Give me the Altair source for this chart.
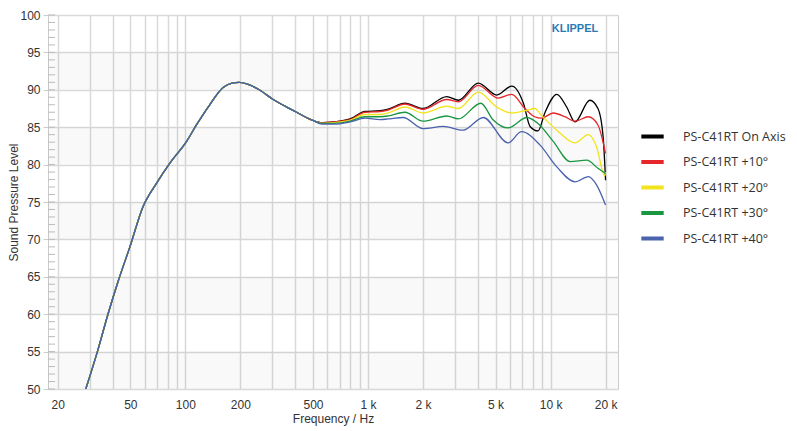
import altair as alt
import pandas as pd

# ---- data ----
SERIES = ["PS-C41RT On Axis", "PS-C41RT +10°", "PS-C41RT +20°", "PS-C41RT +30°", "PS-C41RT +40°"]
COLORS = ["#000000", "#e5262a", "#f2e41c", "#1a9641", "#4b62ae"]

# common low-frequency part (identical for all angles)
LOW_F = [28.5, 33, 37.8, 43, 49.7, 58.7, 69.5, 82.3, 101.6, 115, 136, 161, 180, 197, 217, 250, 303, 407, 460, 500]
LOW_DB = [50.0, 55.0, 60.1, 64.5, 69.0, 74.4, 77.5, 80.2, 83.1, 85.3, 88.0, 90.3, 90.9, 91.0, 90.8, 90.1, 88.7, 87.0, 86.3, 85.9]

BLACK_F = [560, 650, 797, 963, 1163, 1290, 1595, 2000, 2699, 3127, 4020, 5070, 6130, 7100, 7720, 8540, 9300, 10820, 12250, 13600, 16400, 18170, 19400, 20000]
BLACK_DB = [85.6, 85.7, 86.1, 87.1, 87.2, 87.4, 88.2, 87.5, 89.1, 88.6, 90.9, 89.3, 90.5, 88.2, 85.1, 84.5, 86.9, 89.4, 87.7, 85.7, 88.6, 87.5, 83.7, 77.9]

RED_F = [560, 650, 797, 963, 1163, 1290, 1595, 2000, 2699, 3127, 4020, 5170, 6130, 7240, 8180, 8900, 10340, 12000, 13600, 16100, 18170, 20000]
RED_DB = [85.6, 85.7, 86.0, 87.0, 87.1, 87.3, 88.1, 87.4, 88.7, 88.4, 90.6, 88.9, 89.4, 87.5, 86.4, 86.2, 86.9, 86.4, 85.8, 86.4, 85.3, 81.5]

YELLOW_F = [560, 650, 797, 963, 1163, 1290, 1595, 2000, 2699, 3127, 4020, 5070, 6130, 7240, 8180, 8900, 10820, 13600, 16100, 17850, 19800, 20000]
YELLOW_DB = [85.5, 85.6, 85.9, 86.7, 86.7, 86.9, 87.7, 86.9, 87.8, 87.5, 89.7, 87.7, 86.9, 87.2, 87.5, 86.6, 84.6, 82.9, 84.0, 82.4, 78.5, 79.0]

GREEN_F = [560, 650, 797, 963, 1163, 1290, 1595, 2000, 2699, 3127, 4150, 4840, 5850, 7420, 8540, 10340, 12800, 15800, 18170, 20000]
GREEN_DB = [85.5, 85.5, 85.8, 86.4, 86.4, 86.5, 87.0, 85.8, 86.5, 86.1, 88.2, 86.0, 84.9, 86.3, 85.5, 83.1, 80.4, 80.6, 79.5, 78.8]

BLUE_F = [560, 650, 797, 963, 1163, 1290, 1560, 2000, 2580, 3320, 4280, 5850, 6930, 8760, 10820, 13600, 16100, 17850, 20000]
BLUE_DB = [85.4, 85.4, 85.7, 86.2, 86.0, 86.1, 86.3, 84.8, 85.1, 84.6, 86.3, 82.9, 84.4, 82.6, 79.7, 77.7, 78.4, 77.3, 74.6]

HIGH = [(BLACK_F, BLACK_DB), (RED_F, RED_DB), (YELLOW_F, YELLOW_DB), (GREEN_F, GREEN_DB), (BLUE_F, BLUE_DB)]

GRID_F = [20, 30, 40, 50, 60, 70, 80, 90, 100, 200, 300, 400, 500, 600, 700, 800, 900,
          1000, 2000, 3000, 4000, 5000, 6000, 7000, 8000, 9000, 10000, 20000]
Y_TICKS = list(range(50, 101, 5))
Y_MINOR = list(range(50, 101, 1))
BAND_LO = [50, 60, 70, 80, 90]
BAND_HI = [55, 65, 75, 85, 95]

rows = []
for si, (name, (hf, hd)) in enumerate(zip(SERIES, HIGH)):
    for i, (f, d) in enumerate(zip(LOW_F + hf, LOW_DB + hd)):
        rows.append({"series": name, "f": f, "spl": d, "o": si})
df = pd.DataFrame(rows)

W, H = 570, 374
xscale = alt.Scale(type="log", domain=[17.7, 23400], nice=False)
yscale = alt.Scale(domain=[50, 100], nice=False, zero=False)

label_expr = ("indexof([20,50,100,200,500], datum.value) >= 0 ? '' + datum.value : "
              "(indexof([1000,2000,5000,10000,20000], datum.value) >= 0 ? (datum.value/1000) + ' k' : '')")

x_axis = alt.Axis(values=GRID_F, labelExpr=label_expr, title="Frequency / Hz",
                  ticks=False, tickSize=0, labelPadding=10, labelOverlap=False,
                  labelFlush=False, titlePadding=3, domain=False)
y_axis = alt.Axis(values=Y_TICKS, title="Sound Pressure Level", tickSize=5,
                  labelPadding=3, titlePadding=-1, domain=True, domainColor="#cccccc",
                  tickColor="#cccccc", labelOverlap=False, labelFlush=False)

bands = alt.Chart(pd.DataFrame({"lo": BAND_LO, "hi": BAND_HI})).mark_rect(
    color="#000000", opacity=0.025
).encode(
    y=alt.Y("lo:Q", scale=yscale, axis=y_axis),
    y2="hi:Q",
)

minor = alt.Chart(pd.DataFrame({"v": Y_MINOR})).mark_rule(color="#bbbbbb", strokeWidth=1).encode(
    y=alt.Y("v:Q", scale=yscale, axis=y_axis),
    x=alt.value(0),
    x2=alt.value(7),
)

lines = alt.Chart(df).mark_line(interpolate="monotone", strokeWidth=1.3, clip=True).encode(
    x=alt.X("f:Q", scale=xscale, axis=x_axis),
    y=alt.Y("spl:Q", scale=yscale, axis=y_axis),
    color=alt.Color("series:N", sort=SERIES,
                    scale=alt.Scale(domain=SERIES, range=COLORS),
                    legend=alt.Legend(title=None, orient="none", legendX=591, legendY=108,
                                      symbolType="stroke", symbolStrokeWidth=4, symbolSize=500,
                                      rowPadding=3.5, labelFont="Open Sans", labelFontSize=12.5,
                                      labelColor="#333333", labelLimit=300, labelOffset=17)),
    order=alt.Order("o:Q"),
)

logo = alt.Chart(pd.DataFrame({"t": ["KLIPPEL"]})).mark_text(
    font="Liberation Sans", fontWeight="bold", fontSize=11, color="#2b7bb5", align="center", baseline="middle"
).encode(
    x=alt.value(527), y=alt.value(14), text="t:N"
)

chart = alt.layer(bands, minor, lines, logo).properties(
    width=W, height=H,
    autosize=alt.AutoSizeParams(type="none"),
    padding={"left": 40, "top": 7, "right": 171, "bottom": 44},
).configure_axis(
    labelFont="Liberation Sans", titleFont="Liberation Sans", labelFontSize=12, titleFontSize=12,
    labelColor="#333333", titleColor="#333333", titleFontWeight="normal",
    gridColor="#d9d9d9", gridWidth=1.5,
).configure_view(stroke="#cccccc", strokeWidth=1)

chart.save("out.html", embed_options={"renderer": "svg", "actions": False})
